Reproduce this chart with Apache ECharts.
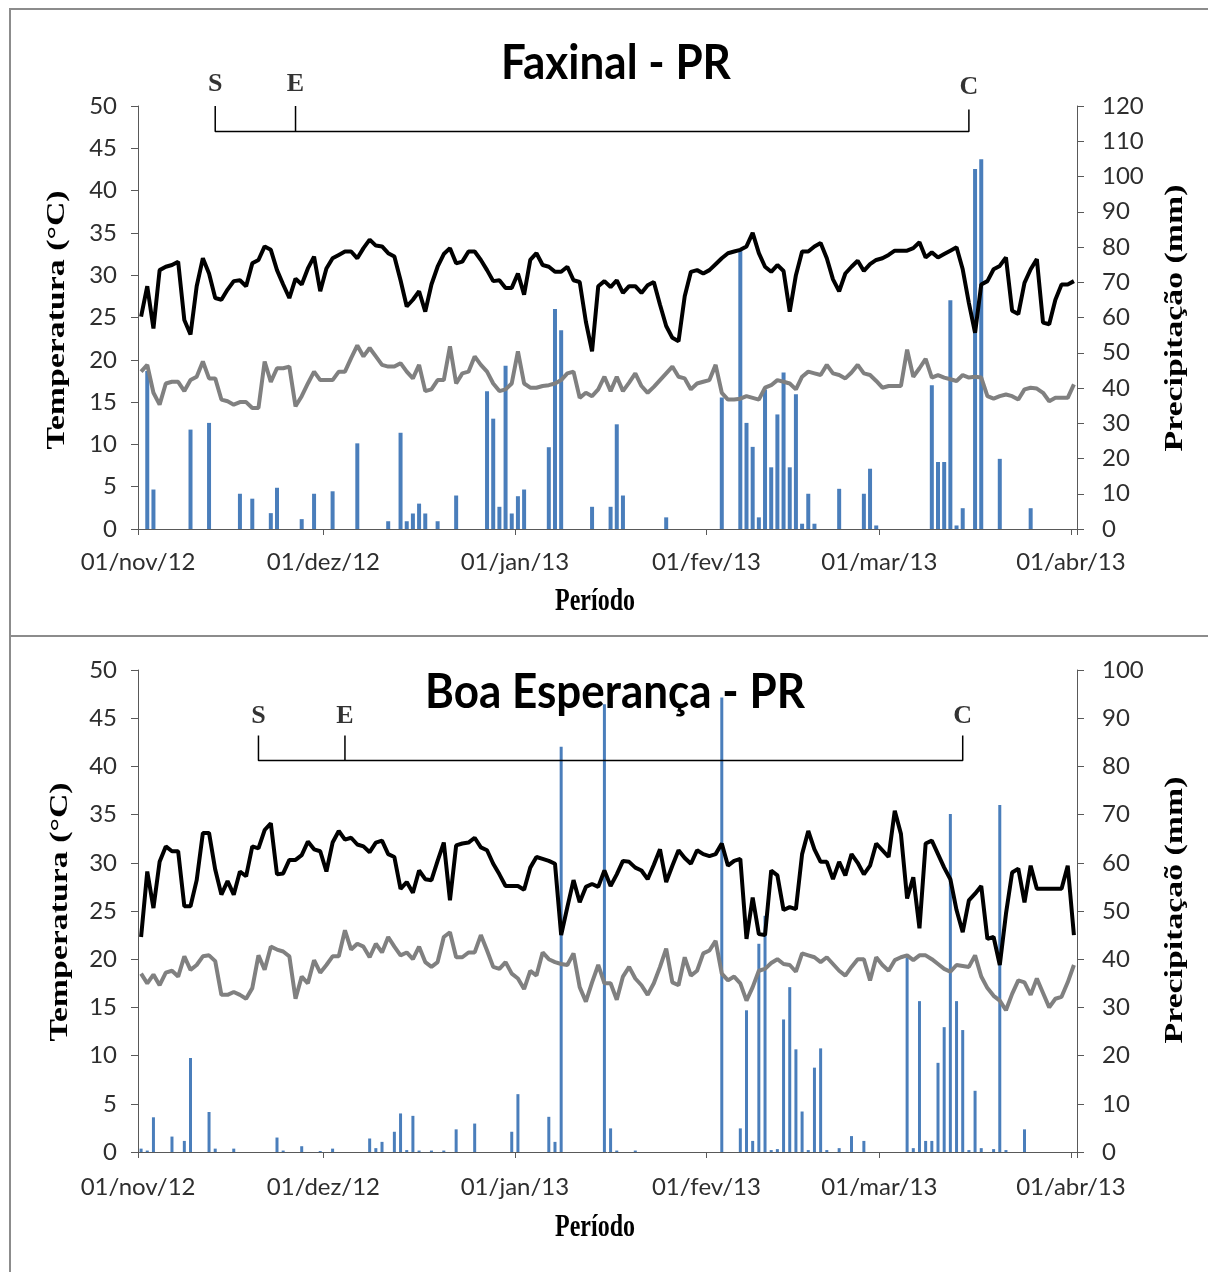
<!DOCTYPE html>
<html><head><meta charset="utf-8">
<script src="https://cdn.jsdelivr.net/npm/echarts@6/dist/echarts.min.js"></script>
<style>html,body{margin:0;padding:0;background:#fff}#c{width:1208px;height:1272px}</style>
</head><body><div id="c"></div>
<script>
// ---------- data ----------
const xTickLabels = ['01/nov/12','01/dez/12','01/jan/13','01/fev/13','01/mar/13','01/abr/13'];
const monthNames = ['jan','fev','mar','abr','mai','jun','jul','ago','set','out','nov','dez'];
const stageNames = ['S','E','C'];

// Faxinal - PR (daily, 01/nov/12 .. 01/abr/13)
const faxTmax = [25.1,28.7,23.7,30.6,31.0,31.2,31.6,24.7,23.0,28.7,
 32.0,30.2,27.3,27.1,28.3,29.3,29.4,28.7,31.4,31.8,
 33.4,33.0,30.6,28.9,27.3,29.6,28.9,30.8,32.2,28.1,
 30.8,32.0,32.4,32.8,32.8,32.0,33.2,34.2,33.5,33.4,
 32.6,32.2,29.4,26.3,27.1,28.1,25.7,28.9,31.0,32.5,
 33.2,31.4,31.6,32.8,32.8,31.8,30.6,29.3,29.4,28.5,
 28.5,30.2,27.7,31.8,32.6,31.2,31.0,30.4,30.4,31.0,
 29.4,29.2,24.5,21.0,28.7,29.3,28.6,29.4,27.9,28.7,
 28.7,27.9,28.8,29.2,26.5,24.0,22.6,22.2,27.5,30.4,
 30.6,30.2,30.6,31.3,32.0,32.6,32.8,33.0,33.4,35.0,
 32.6,31.0,30.4,31.2,30.5,25.7,30.0,32.8,32.8,33.4,
 33.8,32.0,29.5,28.1,30.2,31.0,31.7,30.5,31.3,31.8,
 32.0,32.4,32.9,32.9,32.9,33.2,33.9,32.1,32.7,32.1,
 32.5,32.9,33.3,30.7,26.7,23.2,28.9,29.3,30.7,31.1,
 32.1,25.8,25.4,29.1,30.7,31.9,24.4,24.2,27.1,28.9,
 28.9,29.3];
const faxTmin = [18.6,19.4,16.1,14.7,17.2,17.4,17.4,16.3,17.6,18.0,
 19.8,17.8,17.8,15.3,15.1,14.7,15.0,15.0,14.3,14.3,
 19.8,17.4,19.0,19.0,19.2,14.5,15.7,17.2,18.6,17.6,
 17.6,17.6,18.6,18.6,20.2,21.7,20.4,21.4,20.4,19.4,
 19.2,19.2,19.6,18.6,17.8,19.4,16.3,16.5,17.6,17.6,
 21.6,17.2,18.4,18.6,20.4,19.4,18.6,17.2,16.3,16.5,
 17.2,21.0,17.2,16.7,16.7,16.9,17.0,17.2,17.6,18.4,
 18.6,15.5,16.1,15.7,16.5,18.0,16.3,18.0,16.3,17.3,
 18.4,16.9,16.1,16.8,17.6,18.4,19.2,18.0,17.8,16.5,
 17.2,17.4,17.6,19.4,16.1,15.3,15.3,15.4,15.7,15.5,
 15.3,16.7,17.0,17.6,17.4,17.2,16.5,18.0,18.6,18.4,
 18.2,19.4,18.4,18.2,17.8,18.5,19.4,18.4,18.2,17.5,
 16.7,16.9,16.9,16.9,21.2,18.0,19.0,20.1,17.9,18.2,
 17.9,17.7,17.5,18.2,17.9,18.0,17.9,15.7,15.4,15.7,
 15.9,15.7,15.3,16.5,16.7,16.6,16.1,15.1,15.5,15.5,
 15.5,17.1];
const faxRainDays = [1,2,8,11,16,18,21,22,26,28,31,35,40,42,43,44,45,46,48,51,56,57,58,59,60,61,62,66,67,68,73,76,77,78,85,94,97,98,99,100,101,102,103,104,105,106,107,108,109,113,117,118,119,128,129,130,131,132,133,135,136,139,144];
const faxRainMm = [44.8,11.2,28.2,30.1,10.0,8.6,4.5,11.7,2.8,10.0,10.7,24.3,2.2,27.3,2.2,4.4,7.2,4.4,2.2,9.5,39.1,31.3,6.3,46.3,4.4,9.3,11.2,23.2,62.4,56.4,6.3,6.3,29.7,9.5,3.3,37.3,79.0,30.1,23.3,3.3,39.6,17.5,32.5,44.4,17.5,38.2,1.5,10.0,1.5,11.4,10.0,17.1,1.0,40.8,19.0,19.0,64.9,1.0,5.9,102.1,104.9,19.9,5.9];
const faxStageDays = [12, 25, 134];

// Boa Esperança - PR
const boaTmax = [22.3,29.1,25.3,30.1,31.7,31.2,31.2,25.5,25.5,28.2,
 33.1,33.1,29.3,26.7,28.1,26.7,29.1,28.6,31.7,31.5,
 33.4,34.1,28.8,28.9,30.3,30.3,30.8,32.2,31.4,31.2,
 29.1,32.1,33.3,32.4,32.6,31.9,31.7,31.1,32.1,32.3,
 30.9,30.6,27.3,28.0,26.9,29.2,28.3,28.2,30.2,32.1,
 26.1,31.8,32.0,32.1,32.6,31.6,31.3,29.9,28.8,27.6,
 27.6,27.6,27.2,29.5,30.6,30.4,30.2,29.9,22.5,25.4,
 28.2,25.9,27.5,27.8,27.5,29.2,27.6,28.8,30.2,30.1,
 29.5,29.2,28.3,29.8,31.4,28.0,29.7,31.3,30.5,29.9,
 31.3,30.9,30.7,30.9,32.0,29.7,30.2,30.4,22.1,26.4,
 22.6,22.5,29.2,28.7,25.1,25.4,25.2,30.9,33.3,31.4,
 30.1,30.1,28.3,30.1,28.7,30.9,30.0,28.8,29.7,32.0,
 31.3,30.6,35.4,33.0,26.3,28.5,23.2,32.0,32.3,30.9,
 29.5,28.3,25.1,22.8,26.1,26.8,27.6,22.1,22.3,19.4,
 24.7,29.0,29.4,25.9,29.7,27.3,27.3,27.3,27.3,27.3,
 29.7,22.5];
const boaTmin = [18.5,17.5,18.4,17.3,18.6,18.8,18.2,20.3,18.9,19.4,
 20.3,20.4,19.8,16.3,16.3,16.6,16.3,15.9,17.0,20.4,
 18.9,21.3,21.0,20.8,20.3,15.9,18.2,17.5,19.9,18.6,
 19.4,20.3,20.3,23.0,21.0,21.6,21.3,20.2,21.6,20.7,
 22.3,21.3,20.4,20.7,20.0,21.3,19.7,19.2,19.7,22.3,
 22.8,20.2,20.2,20.7,20.7,22.5,20.9,19.2,19.0,19.7,
 18.5,18.0,16.9,18.8,18.3,20.7,20.0,19.7,19.5,19.4,
 20.6,17.1,15.6,17.6,19.4,17.5,17.5,15.8,18.2,19.2,
 18.0,17.3,16.3,17.5,19.2,21.1,17.6,17.3,20.2,18.3,
 18.8,20.6,20.9,21.9,18.5,17.8,18.2,17.5,15.7,17.1,
 18.8,19.0,19.6,20.0,19.5,19.4,18.7,20.6,20.4,20.2,
 19.7,20.2,19.5,18.8,18.3,19.2,20.0,20.0,17.8,20.2,
 19.4,18.8,19.9,20.2,20.4,19.9,20.4,20.4,20.0,19.5,
 19.0,18.7,19.4,19.3,19.2,20.4,18.2,17.0,16.2,15.7,
 14.7,16.4,17.8,17.6,16.3,18.0,16.5,15.0,15.9,16.1,
 17.6,19.4];
const boaRainDays = [0,1,2,5,7,8,11,12,15,22,23,26,29,31,37,38,39,41,42,43,44,45,47,49,51,54,60,61,66,67,68,75,76,77,80,94,97,98,99,100,101,102,103,104,105,106,107,108,109,110,111,113,115,117,124,125,126,127,128,129,130,131,132,133,134,135,136,138,139,140,143];
const boaRainMm = [0.7,0.3,7.2,3.2,2.3,19.5,8.3,0.7,0.7,3.0,0.3,1.2,0.2,0.7,2.8,0.8,2.1,4.2,8.0,0.4,7.5,0.3,0.3,0.3,4.7,5.9,4.2,12.0,7.3,2.1,84.1,92.9,4.9,0.3,0.3,94.3,4.9,29.4,2.3,43.2,49.0,0.4,0.6,27.5,34.2,21.3,8.4,0.4,17.5,21.5,0.4,0.8,3.3,2.3,40.4,0.8,31.3,2.3,2.3,18.5,25.9,70.1,31.3,25.3,0.4,12.7,0.8,0.6,72.0,0.4,4.7];
const boaStageDays = [19, 33, 133];

// ---------- categories (one per day) ----------
const dates = [];
for (let i = 0; i < faxTmax.length; i++) {
  const d = new Date(Date.UTC(2012, 10, 1) + i * 86400000);
  const dd = String(d.getUTCDate()).padStart(2, '0');
  const yy = String(d.getUTCFullYear() % 100).padStart(2, '0');
  dates.push(dd + '/' + monthNames[d.getUTCMonth()] + '/' + yy);
}
const isTick = (i) => xTickLabels.indexOf(dates[i]) >= 0;

const sansLbl = 'Lato';
const serif = '"Liberation Serif", "Times New Roman", serif';
const lblColor = '#2e2e2e';
const axColor = '#595959';
const barColor = '#4a7ebb';

function xAxisFor(g) {
  return {
    type: 'category', gridIndex: g, data: dates, boundaryGap: true,
    axisLine: { show: true, onZero: false, lineStyle: { color: axColor, width: 1 } },
    axisTick: { show: true, interval: (i) => isTick(i), length: 6, lineStyle: { color: axColor } },
    axisLabel: { interval: (i) => isTick(i), fontFamily: sansLbl, fontSize: 24, color: lblColor, margin: g === 0 ? 21 : 23, padding: [0, 6, 0, 0] },
    splitLine: { show: false }
  };
}
function yAxisFor(g, pos, max, interval) {
  return {
    type: 'value', gridIndex: g, position: pos, min: 0, max: max, interval: interval,
    axisLine: { show: true, lineStyle: { color: axColor, width: 1 } },
    axisTick: { show: true, length: 7, lineStyle: { color: axColor } },
    axisLabel: { fontFamily: sansLbl, fontSize: 24, color: lblColor, margin: pos === 'left' ? 21 : 25 },
    splitLine: { show: false }
  };
}
function panelSeries(xi, yT, yP, tmax, tmin, rainDays, rainMm, stageDays, lineY, topY, lblY, cTopY, barW) {
  const rain = rainDays.map((d, k) => [dates[d], rainMm[k]]);
  const [s, e, c] = stageDays;
  const bracket = [[dates[s], topY], [dates[s], lineY], [dates[e], lineY], [dates[e], topY],
                   [dates[e], lineY], [dates[c], lineY], [dates[c], cTopY]];
  const letters = stageDays.map((d, k) => ({ name: stageNames[k], value: [dates[d], k === 2 ? lblY - (topY - cTopY) : lblY] }));
  return [
    { type: 'bar', xAxisIndex: xi, yAxisIndex: yP, data: rain, barWidth: barW, itemStyle: { color: barColor }, z: 2, silent: true },
    { type: 'line', xAxisIndex: xi, yAxisIndex: yT, data: tmin, symbol: 'none', lineStyle: { color: '#808080', width: 4 }, z: 3, silent: true },
    { type: 'line', xAxisIndex: xi, yAxisIndex: yT, data: tmax, symbol: 'none', lineStyle: { color: '#000', width: 4 }, z: 4, silent: true },
    { type: 'line', xAxisIndex: xi, yAxisIndex: yT, data: bracket, symbol: 'none', clip: false, lineStyle: { color: '#000', width: 1.5 }, z: 5, silent: true },
    { type: 'scatter', xAxisIndex: xi, yAxisIndex: yT, data: letters, symbolSize: 1, clip: false,
      itemStyle: { color: 'rgba(0,0,0,0)' }, z: 6, silent: true,
      label: { show: true, position: 'inside', formatter: '{b}', fontFamily: serif, fontWeight: 'bold', fontSize: 26, color: '#000' } }
  ];
}

function txt(x, y, text, font, opts) {
  return Object.assign({
    type: 'text', x: x, y: y, silent: true,
    style: { text: text, font: font, fill: '#000', align: 'center', verticalAlign: 'middle', textAlign: 'center', textVerticalAlign: 'middle' }
  }, opts || {});
}

const option = {
  animation: false,
  backgroundColor: '#fff',
  grid: [
    { left: 138, top: 106, width: 939, height: 423 },
    { left: 138, top: 670, width: 939, height: 482 }
  ],
  xAxis: [xAxisFor(0), xAxisFor(1)],
  yAxis: [yAxisFor(0, 'left', 50, 5), yAxisFor(0, 'right', 120, 10), yAxisFor(1, 'left', 50, 5), yAxisFor(1, 'right', 100, 10)],
  series: [].concat(
    panelSeries(0, 0, 1, faxTmax, faxTmin, faxRainDays, faxRainMm, faxStageDays, 47.0, 50.0, 52.6, 49.6, 4),
    panelSeries(1, 2, 3, boaTmax, boaTmin, boaRainDays, boaRainMm, boaStageDays, 40.6, 43.2, 45.2, 43.2, 3)
  ),
  graphic: [
    { type: 'rect', silent: true, shape: { x: 10, y: 9, width: 1230, height: 627 }, style: { fill: 'transparent', stroke: '#8c8c8c', lineWidth: 2 } },
    { type: 'rect', silent: true, shape: { x: 10, y: 636, width: 1230, height: 660 }, style: { fill: 'transparent', stroke: '#8c8c8c', lineWidth: 2 } },
    txt(616, 63, 'Faxinal - PR', 'bold 44px Lato', { scaleY: 1.1 }),
    txt(615, 692, 'Boa Esperança - PR', 'bold 44px Lato', { scaleY: 1.1 }),
    txt(57, 320, 'Temperatura (°C)', 'bold 26px ' + serif, { rotation: Math.PI / 2, scaleX: 1.3 }),
    txt(1175, 318, 'Precipitação (mm)', 'bold 26px ' + serif, { rotation: Math.PI / 2, scaleX: 1.3 }),
    txt(60, 912, 'Temperatura (°C)', 'bold 26px ' + serif, { rotation: Math.PI / 2, scaleX: 1.3 }),
    txt(1175, 910, 'Precipitaçaõ (mm)', 'bold 26px ' + serif, { rotation: Math.PI / 2, scaleX: 1.3 }),
    txt(595, 602, 'Período', 'bold 24px ' + serif, { scaleY: 1.3 }),
    txt(595, 1228, 'Período', 'bold 24px ' + serif, { scaleY: 1.3 })
  ]
};
const chart = echarts.init(document.getElementById('c'), null, { renderer: 'canvas' });
chart.setOption(option);
</script>
</body></html>
